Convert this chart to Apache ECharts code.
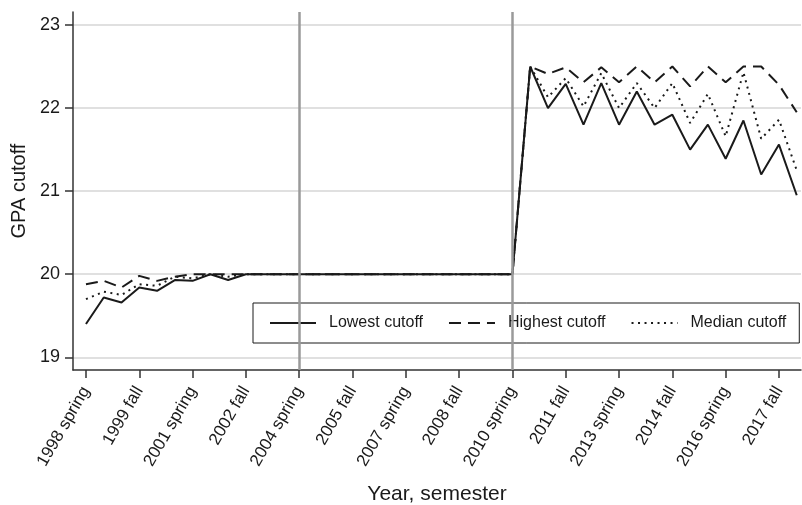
<!DOCTYPE html>
<html>
<head>
<meta charset="utf-8">
<script src="https://cdn.jsdelivr.net/npm/echarts@6/dist/echarts.min.js"></script>
<style>
  html, body { margin: 0; padding: 0; background: #fff; }
  #chart { width: 802px; height: 505px; }
</style>
</head>
<body>
<div id="chart"></div>
<script>
// semesters, one per x position (index 0 = 1998 spring)
const semesters = [
  '1998 spring', '1998 fall', '1999 spring', '1999 fall', '2000 spring', '2000 fall',
  '2001 spring', '2001 fall', '2002 spring', '2002 fall', '2003 spring', '2003 fall',
  '2004 spring', '2004 fall', '2005 spring', '2005 fall', '2006 spring', '2006 fall',
  '2007 spring', '2007 fall', '2008 spring', '2008 fall', '2009 spring', '2009 fall',
  '2010 spring', '2010 fall', '2011 spring', '2011 fall', '2012 spring', '2012 fall',
  '2013 spring', '2013 fall', '2014 spring', '2014 fall', '2015 spring', '2015 fall',
  '2016 spring', '2016 fall', '2017 spring', '2017 fall', '2018 spring'
];
const xTickIdx = [0, 3, 6, 9, 12, 15, 18, 21, 24, 27, 30, 33, 36, 39];
const yTicks = [19, 20, 21, 22, 23];
const refLines = [12, 24]; // 2004 spring, 2010 spring

const lowest = [
  19.40, 19.72, 19.66, 19.84, 19.80, 19.93, 19.92, 20.00, 19.93, 20.00,
  20, 20, 20, 20, 20, 20, 20, 20, 20, 20, 20, 20, 20, 20, 20,
  22.50, 22.00, 22.29, 21.80, 22.30, 21.80, 22.20, 21.80, 21.92, 21.50,
  21.80, 21.39, 21.85, 21.20, 21.56, 20.95
];
const highest = [
  19.88, 19.92, 19.84, 19.98, 19.92, 19.97, 20.00, 20, 20, 20,
  20, 20, 20, 20, 20, 20, 20, 20, 20, 20, 20, 20, 20, 20, 20,
  22.50, 22.41, 22.49, 22.31, 22.49, 22.31, 22.50, 22.31, 22.50, 22.26,
  22.50, 22.31, 22.50, 22.50, 22.28, 21.95
];
const median = [
  19.70, 19.79, 19.75, 19.88, 19.86, 19.97, 19.95, 20.00, 19.97, 20.00,
  20, 20, 20, 20, 20, 20, 20, 20, 20, 20, 20, 20, 20, 20, 20,
  22.50, 22.13, 22.36, 22.02, 22.42, 22.00, 22.30, 22.00, 22.30, 21.82,
  22.17, 21.66, 22.43, 21.63, 21.86, 21.25
];

const font = '"Liberation Sans", Arial, Helvetica, sans-serif';
const ink = '#1a1a1a';

function pairs(arr) {
  return arr.map((v, i) => [i, v]);
}

function lineSeries(name, values, dash) {
  return {
    name: name,
    type: 'line',
    data: pairs(values),
    symbol: 'none',
    showSymbol: false,
    z: 3,
    lineStyle: { color: ink, width: 2, type: dash, cap: 'butt' },
    itemStyle: { color: ink }
  };
}

const chart = echarts.init(document.getElementById('chart'));

const option = {
  animation: false,
  backgroundColor: '#fff',
  textStyle: { fontFamily: font, color: ink },
  grid: { left: 73, right: 1, top: 12, bottom: 135, containLabel: false, outerBoundsMode: 'none' },
  legend: {
    data: ['Lowest cutoff', 'Highest cutoff', 'Median cutoff'],
    left: 253,
    top: 303,
    width: 560,
    padding: [12, 13, 12, 16],
    itemWidth: 46,
    itemHeight: 14,
    itemGap: 25,
    backgroundColor: '#fff',
    borderColor: ink,
    borderWidth: 1,
    borderRadius: 0,
    // hide the marker dot, keep only the line sample
    itemStyle: { color: 'rgba(0,0,0,0)', borderColor: 'rgba(0,0,0,0)', borderWidth: 0 },
    textStyle: { fontFamily: font, fontSize: 16, color: ink, padding: [0, 0, 0, 8] }
  },
  xAxis: {
    type: 'value',
    min: -0.73,
    max: 40.24,
    name: 'Year, semester',
    nameLocation: 'middle',
    nameGap: 114,
    nameMoveOverlap: false,
    nameTextStyle: { fontFamily: font, fontSize: 21, color: ink },
    axisLine: { show: true, onZero: false, lineStyle: { color: '#333', width: 1.5 } },
    axisTick: { show: true, customValues: xTickIdx, length: 8, lineStyle: { color: '#333', width: 1.5 } },
    axisLabel: {
      customValues: xTickIdx,
      rotate: 60,
      margin: 18,
      fontSize: 17,
      color: ink,
      fontFamily: font,
      formatter: v => semesters[Math.round(v)]
    },
    splitLine: { show: false }
  },
  yAxis: {
    type: 'value',
    min: 18.847,
    max: 23.156,
    name: 'GPA cutoff',
    nameLocation: 'middle',
    nameGap: 44,
    nameMoveOverlap: false,
    nameTextStyle: { fontFamily: font, fontSize: 20, color: ink },
    axisLine: { show: true, onZero: false, lineStyle: { color: '#333', width: 1.5 } },
    axisTick: { show: true, customValues: yTicks, length: 8, lineStyle: { color: '#333', width: 1.5 } },
    axisLabel: { customValues: yTicks, margin: 13, fontSize: 18, color: ink, fontFamily: font },
    splitLine: { show: true, lineStyle: { color: '#d6d6d6', width: 1.5 } }
  },
  series: [
    {
      name: 'ref',
      type: 'line',
      data: [],
      z: 1,
      markLine: {
        silent: true,
        symbol: ['none', 'none'],
        label: { show: false },
        lineStyle: { color: '#9a9a9a', width: 2.5, type: 'solid' },
        data: refLines.map(i => ({ xAxis: i }))
      }
    },
    lineSeries('Lowest cutoff', lowest, 'solid'),
    lineSeries('Highest cutoff', highest, [12, 7]),
    lineSeries('Median cutoff', median, [2, 4.5])
  ]
};

chart.setOption(option);
</script>
</body>
</html>
